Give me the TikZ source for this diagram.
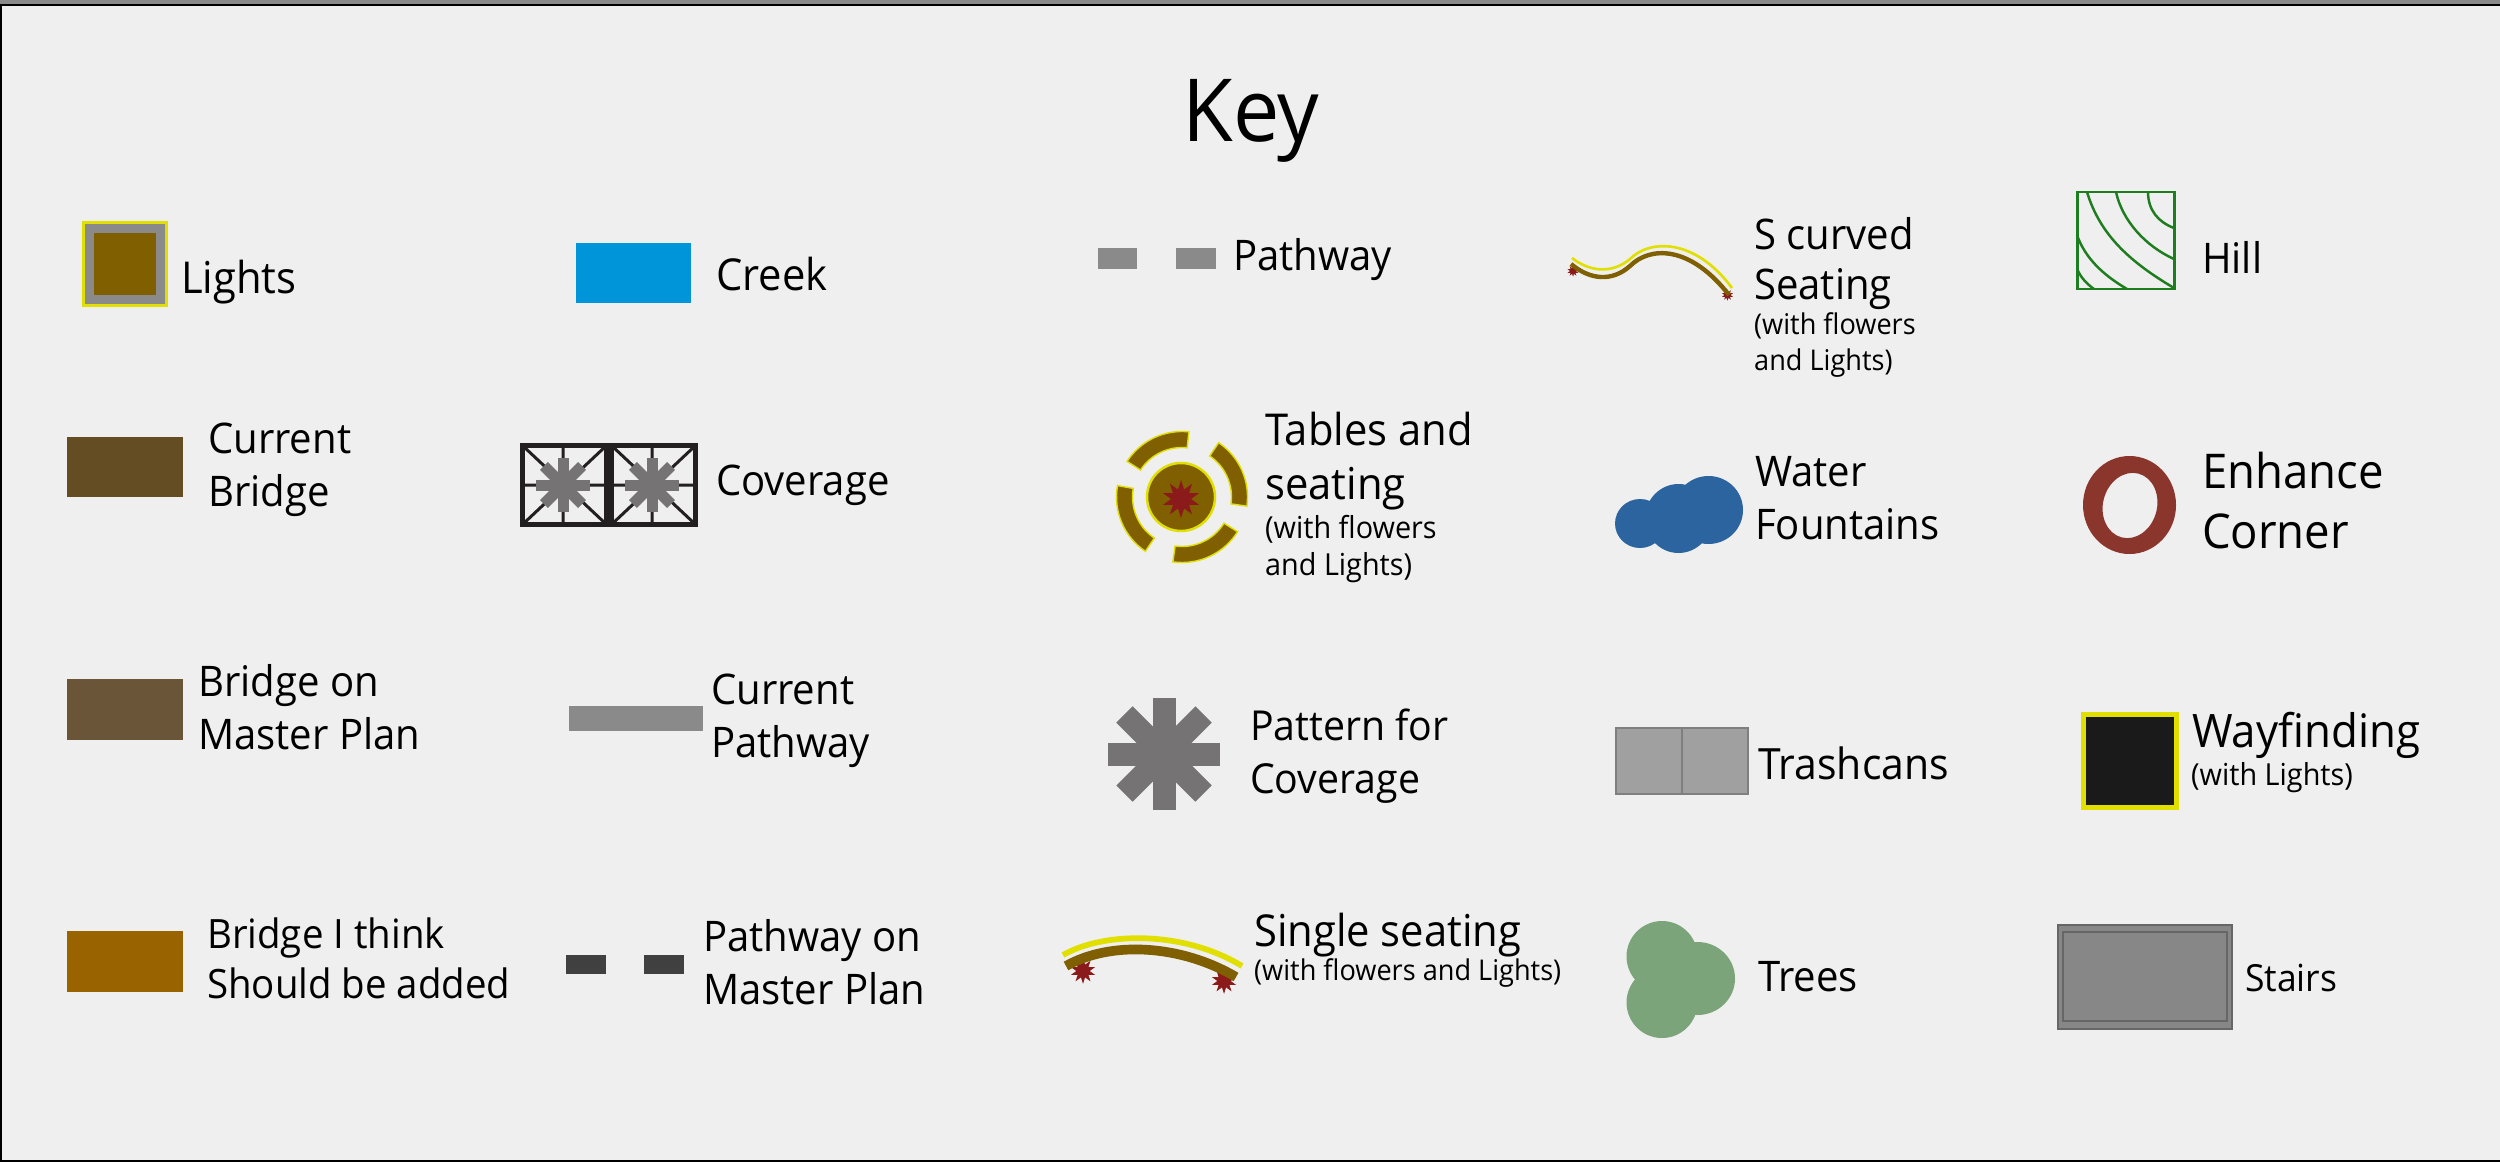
\documentclass[tikz,border=0pt]{standalone}
\usepackage{fontspec}
\setmainfont[FakeStretch=0.95]{Open Sans}
\usetikzlibrary{shapes.geometric}
\definecolor{keybg}{HTML}{EFEFEF}
\definecolor{seatbrown}{HTML}{7F5F00}
\definecolor{lampyellow}{HTML}{E0DF00}
\definecolor{pathgrey}{HTML}{8A8A8A}
\definecolor{darkpath}{HTML}{404040}
\definecolor{patterngrey}{HTML}{757374}
\definecolor{gridblack}{HTML}{231F20}
\definecolor{flowerred}{HTML}{8B1A1A}
\definecolor{hillgreen}{HTML}{1E7D1E}
\definecolor{curbrown}{HTML}{654D23}
\definecolor{planbrown}{HTML}{6A5538}
\definecolor{addbrown}{HTML}{996300}
\definecolor{creekblue}{HTML}{0095D9}
\definecolor{waterblue}{HTML}{2B649F}
\definecolor{trashgrey}{HTML}{A0A0A0}
\definecolor{trashedge}{HTML}{7F7F7F}
\definecolor{treegreen}{HTML}{7BA47B}
\definecolor{cornerred}{HTML}{8B362D}
\definecolor{signblack}{HTML}{1A1A1A}
\definecolor{stairgrey}{HTML}{878787}
\definecolor{stairedge}{HTML}{666666}
\tikzset{
  keytxt/.style={anchor=base west,align=left,inner sep=0pt,xshift=0pt,yshift=-1.5pt,font=\fontsize{48}{60}\selectfont},
  subtxt/.style={anchor=base west,align=left,inner sep=0pt,yshift=-1pt,font=\fontsize{32.5}{41}\selectfont},
  seat/.style={line cap=butt,draw=seatbrown},
  lamp/.style={line cap=butt,draw=lampyellow},
  flower/.style={star,star points=10,star point ratio=1.9,fill=flowerred,inner sep=0pt}
}
\begin{document}
\begin{tikzpicture}[x=0.04cm,y=-0.04cm]
\useasboundingbox (0,0) rectangle (2500,1162);
\fill[keybg] (0,0) rectangle (2500,1162);
\fill[pathgrey] (0,0) rectangle (2500,3.5);
\draw[line width=3.2pt] (2500,5) -- (1,5) -- (1,1161) -- (2500,1161);
\node[anchor=base,inner sep=0pt,font=\fontsize{99}{100}\selectfont] (title) at (1251,141) {Key};
% first column
\draw[draw=lampyellow,fill=pathgrey,line width=3.4pt] (83.5,222.5) rectangle (166.5,305.5);
\fill[seatbrown] (94,233) rectangle (156,295);
\node[keytxt,font=\fontsize{50}{60}\selectfont] (lights) at (181,292) {Lights};
\fill[curbrown] (67,437) rectangle (183,497);
\node[keytxt] (curbridge) at (208,505) {Current\\Bridge};
\fill[planbrown] (67,679) rectangle (183,740);
\node[keytxt] (planbridge) at (198,748) {Bridge on\\Master Plan};
\fill[addbrown] (67,931) rectangle (183,992);
\node[keytxt,font=\fontsize{46}{57}\selectfont] (addbridge) at (207,997) {Bridge I think\\Should be added};
% second column
\fill[creekblue] (576,243) rectangle (691,303);
\node[keytxt,font=\fontsize{50}{60}\selectfont] (creek) at (716,289) {Creek};
\foreach \cx/\lx in {563/522.5,652/611.5} {
  \draw[gridblack,line width=3.4pt] (\lx,445.5) -- (\lx+84,524.5) (\lx,524.5) -- (\lx+84,445.5)
    (\cx,445.5) -- (\cx,524.5) (\lx,485) -- (\lx+84,485);
  \draw[gridblack,line width=5.7pt] (\lx,445.5) rectangle (\lx+84,524.5);
  \foreach \a in {0,45,90,135}
    \fill[patterngrey,shift={(\cx,485)},rotate=\a] (-27,-5.5) rectangle (27,5.5);
}
\node[keytxt] (coverage) at (716,494) {Coverage};
\fill[pathgrey] (569,706) rectangle (703,731);
\node[keytxt] (curpath) at (711,756) {Current\\Pathway};
\fill[darkpath] (566,955) rectangle (606,974);
\fill[darkpath] (644,955) rectangle (684,974);
\node[keytxt] (planpath) at (703,1003) {Pathway on\\Master Plan};
% third column
\fill[pathgrey] (1098,248) rectangle (1137,269);
\fill[pathgrey] (1176,248) rectangle (1216,269);
\node[keytxt] (pathway) at (1233,269) {Pathway};
\begin{scope}[shift={(1182,497)},y=0.04cm]
\foreach \a/\b in {84/147,-8/56,-98/-32,170/236}
  \draw[lampyellow,fill=seatbrown,line width=1.6pt] (\a:65.5) arc[start angle=\a,end angle=\b,radius=65.5]
    -- (\b:49.5) arc[start angle=\b,end angle=\a,radius=49.5] -- cycle;
\end{scope}
\draw[lampyellow,fill=seatbrown,line width=2.8pt] (1181,497) circle[radius=34];
\node[flower,minimum size=43pt] (tableflower) at (1181,499) {};
\node[keytxt,font=\fontsize{50}{61}\selectfont] (tables) at (1265,498) {Tables and\\seating};
\node[subtxt,font=\fontsize{34.5}{43}\selectfont] (tablessub) at (1265,575) {(with flowers\\and Lights)};
\foreach \a in {0,45,90,135}
  \fill[patterngrey,shift={(1164,754)},rotate=\a] (-56,-11.5) rectangle (56,11.5);
\node[keytxt,font=\fontsize{47}{60}\selectfont] (pattern) at (1250,792) {Pattern for\\Coverage};
\node[flower,minimum size=29pt] (singleleft) at (1083,971) {};
\node[flower,minimum size=29pt] (singleright) at (1224,981) {};
\draw[seat,line width=11pt] (1066,966) .. controls (1110,941) and (1180,944) .. (1236,977);
\draw[lamp,line width=6.5pt] (1063,955) .. controls (1105,931) and (1185,931) .. (1242,966);
\node[keytxt,font=\fontsize{50}{60}\selectfont] (single) at (1254,945) {Single seating};
\node[subtxt] (singlesub) at (1254,980) {(with flowers and Lights)};
% fourth column
\node[flower,minimum size=13pt] (scurveleft) at (1573,271) {};
\node[flower,minimum size=13pt] (scurveright) at (1727.5,295) {};
\draw[seat,line width=5pt] (1571,264) .. controls (1590,280) and (1612,282) .. (1630,266)
  .. controls (1650,246) and (1690,245) .. (1729,295);
\draw[lamp,line width=3pt] (1572,258) .. controls (1590,272) and (1612,274) .. (1630,259)
  .. controls (1650,239) and (1695,238) .. (1732,288);
\node[keytxt,font=\fontsize{48}{57}\selectfont] (scurve) at (1754,298) {S curved\\Seating};
\node[subtxt] (scurvesub) at (1754,370) {(with flowers\\and Lights)};
\fill[waterblue] (1640,523.5) circle[x radius=25,y radius=24.5];
\fill[waterblue] (1678.5,518.5) circle[x radius=33.5,y radius=34.5];
\fill[waterblue] (1708.5,510) circle[x radius=34.5,y radius=34];
\node[keytxt] (water) at (1755,538) {Water\\Fountains};
\fill[trashgrey] (1616,728) rectangle (1748,794);
\draw[trashedge,line width=1.7pt] (1616,728) rectangle (1748,794) (1682,728) -- (1682,794);
\node[keytxt,font=\fontsize{49}{60}\selectfont] (trash) at (1758,778) {Trashcans};
\fill[treegreen] (1662,956.5) circle[x radius=35.5,y radius=35.5];
\fill[treegreen] (1662,1002.5) circle[x radius=35.5,y radius=35.5];
\fill[treegreen] (1697.5,978.5) circle[x radius=37.5,y radius=36.5];
\node[keytxt] (trees) at (1758,990) {Trees};
% fifth column
\draw[hillgreen,line width=3.4pt] (2077,192) rectangle (2174,289);
\draw[hillgreen,line width=2.8pt] (2148,192) .. controls (2148,210) and (2158,222) .. (2174,228)
  (2116,192) .. controls (2122,220) and (2145,246) .. (2174,259)
  (2087,192) .. controls (2100,235) and (2130,262) .. (2174,288)
  (2077,235) .. controls (2085,258) and (2103,275) .. (2127,289)
  (2077,269) .. controls (2081,278) and (2087,284) .. (2094,289);
\node[keytxt] (hill) at (2202,272) {Hill};
\fill[cornerred,even odd rule] (2129.5,505) circle[x radius=46.5,y radius=49]
  (2130,505.5) [rotate around={-15:(2130,505.5)}] circle[x radius=27,y radius=33];
\node[keytxt,font=\fontsize{54.5}{68}\selectfont] (corner) at (2202,547) {Enhance\\Corner};
\draw[fill=signblack,draw=lampyellow,line width=6pt] (2083.5,714.5) rectangle (2176.5,807.5);
\node[keytxt,font=\fontsize{52.5}{60}\selectfont] (wayfinding) at (2192,746) {Wayfinding};
\node[subtxt,font=\fontsize{34.5}{43}\selectfont] (wayfindingsub) at (2191,785) {(with Lights)};
\draw[stairedge,fill=stairgrey,line width=2.3pt] (2058,925) rectangle (2232,1029);
\draw[stairedge,line width=2.3pt] (2063,932) rectangle (2227,1021);
\node[keytxt,font=\fontsize{42.5}{50}\selectfont] (stairs) at (2245,990) {Stairs};
\end{tikzpicture}
\end{document}
